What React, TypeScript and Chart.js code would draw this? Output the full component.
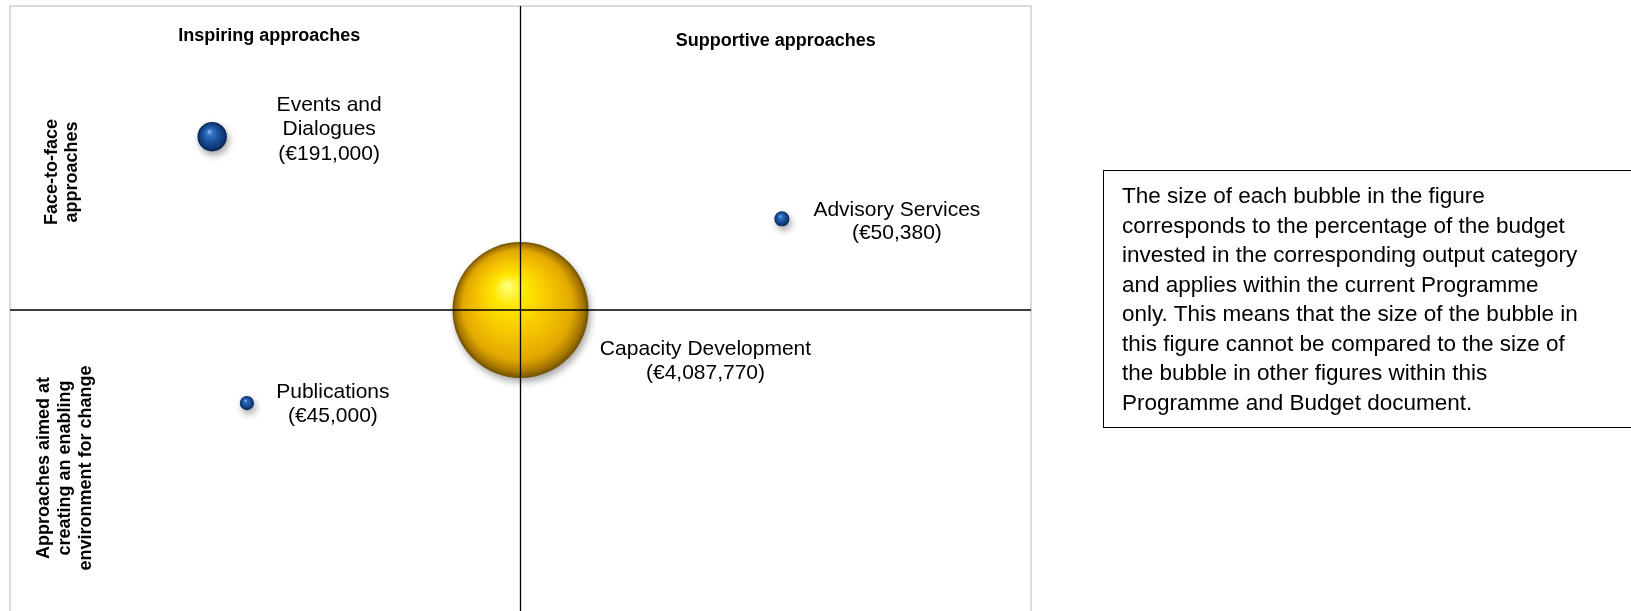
import React, { useEffect, useRef } from "react";
import { Chart, registerables } from "chart.js";

Chart.register(...registerables);

// ---- data ----
const categories = ["Events and Dialogues", "Advisory Services", "Capacity Development", "Publications"];
const categoryLabelLines = [["Events and", "Dialogues"], ["Advisory Services"], ["Capacity Development"], ["Publications"]];
const budgets = [191000, 50380, 4087770, 45000];
const xValues = [19.8, 75.6, 50, 23.2];
const yValues = [78.5, 65, 50, 34.7];
const columnTitles = ["Inspiring approaches", "Supportive approaches"];
const rowTitles = [["Face-to-face", "approaches"], ["Approaches aimed at", "creating an enabling", "environment for change"]];
const noteLines = [
  "The size of each bubble in the figure",
  "corresponds to the percentage of the budget",
  "invested in the corresponding output category",
  "and applies within the current Programme",
  "only. This means that the size of the bubble in",
  "this figure cannot be compared to the size of",
  "the bubble in other figures within this",
  "Programme and Budget document.",
];

// ---- styles / layout ----
const bubbleStyle = ["blue", "blue", "gold", "blue"];
const labelOffsets = [
  { dx: 117, dy: -26, lh: 24.5 },
  { dx: 115, dy: -3, lh: 23.5 },
  { dx: 185, dy: 45, lh: 24 },
  { dx: 86, dy: -5, lh: 23.5 },
];
const MAX_R = 68;
const FONT = '"Liberation Sans", Arial, Helvetica, sans-serif';

const fmt = (v: number) => "(€" + String(v).replace(/\B(?=(\d{3})+(?!\d))/g, ",") + ")";

function sphereFill(chart: any, raw: any, style: string) {
  const fallback = style === "gold" ? "#f2c200" : "#1a4f9c";
  try {
    const xs = chart.scales?.x;
    const ys = chart.scales?.y;
    if (!xs || !ys || !raw) return fallback;
    const cx = xs.getPixelForValue(raw.x);
    const cy = ys.getPixelForValue(raw.y);
    const r = raw.r;
    if (![cx, cy, r].every((v) => Number.isFinite(v)) || r <= 0) return fallback;
    const g = chart.ctx.createRadialGradient(cx - r * 0.2, cy - r * 0.36, r * 0.03, cx, cy, r);
    if (style === "gold") {
      g.addColorStop(0, "#ffff70");
      g.addColorStop(0.22, "#ffe600");
      g.addColorStop(0.55, "#f4c200");
      g.addColorStop(0.8, "#e0a800");
      g.addColorStop(0.93, "#a87800");
      g.addColorStop(1, "#6e5000");
    } else {
      g.addColorStop(0, "#8ab8f0");
      g.addColorStop(0.18, "#3473c6");
      g.addColorStop(0.55, "#1a4f9c");
      g.addColorStop(0.85, "#0f3873");
      g.addColorStop(1, "#08224a");
    }
    return g;
  } catch (e) {
    return fallback;
  }
}

const quadPlugin = {
  id: "quadPlugin",
  beforeDatasetsDraw(chart: any) {
    const ctx = chart.ctx;
    ctx.save();
    ctx.shadowColor = "rgba(0,0,0,0.35)";
    ctx.shadowBlur = 7;
    ctx.shadowOffsetX = 2;
    ctx.shadowOffsetY = 4;
  },
  afterDatasetsDraw(chart: any) {
    const ctx = chart.ctx;
    ctx.restore();
    const { left, right, top, bottom } = chart.chartArea;
    const xs = chart.scales.x;
    const ys = chart.scales.y;
    const midX = xs.getPixelForValue(50);
    const midY = ys.getPixelForValue(50);

    ctx.save();
    // outer border
    ctx.strokeStyle = "#d9d9d9";
    ctx.lineWidth = 2;
    ctx.strokeRect(left, top, right - left, bottom - top);
    // quadrant lines
    ctx.strokeStyle = "#000";
    ctx.lineWidth = 1.3;
    ctx.beginPath();
    ctx.moveTo(midX, top);
    ctx.lineTo(midX, bottom);
    ctx.moveTo(left, midY);
    ctx.lineTo(right, midY);
    ctx.stroke();

    // bubble labels
    ctx.fillStyle = "#000";
    ctx.font = `21px ${FONT}`;
    ctx.textAlign = "center";
    ctx.textBaseline = "alphabetic";
    const meta = chart.getDatasetMeta(0);
    meta.data.forEach((el: any, i: number) => {
      const o = labelOffsets[i];
      const lines = [...categoryLabelLines[i], fmt(budgets[i])];
      lines.forEach((t, k) => ctx.fillText(t, el.x + o.dx, el.y + o.dy + k * o.lh));
    });

    // column titles
    ctx.font = `bold 18px ${FONT}`;
    ctx.fillText(columnTitles[0], (left + midX) / 2 + 4, top + 35);
    ctx.fillText(columnTitles[1], (midX + right) / 2, top + 40);

    // row titles (rotated)
    const drawRot = (lines: string[], baselines: number[], cy: number) => {
      lines.forEach((t, k) => {
        ctx.save();
        ctx.translate(baselines[k], cy);
        ctx.rotate(-Math.PI / 2);
        ctx.fillText(t, 0, 0);
        ctx.restore();
      });
    };
    drawRot(rowTitles[0], [56.5, 76.5], (top + midY) / 2 + 14);
    drawRot(rowTitles[1], [48.5, 69.5, 90.5], (midY + bottom) / 2 + 6);
    ctx.restore();
  },
};

export default function App() {
  const ref = useRef<HTMLCanvasElement | null>(null);
  useEffect(() => {
    if (!ref.current) return;
    const maxB = Math.max(...budgets);
    const chart = new Chart(ref.current, {
      type: "bubble",
      data: {
        datasets: [
          {
            label: "Budget",
            data: categories.map((c, i) => ({ x: xValues[i], y: yValues[i], r: MAX_R * Math.sqrt(budgets[i] / maxB) })),
            backgroundColor: (c: any) =>
              c.type === "data" ? sphereFill(c.chart, c.raw, bubbleStyle[c.dataIndex]) : "#1a4f9c",
            borderWidth: 0,
            clip: false as any,
          },
        ],
      },
      options: {
        animation: false,
        responsive: false,
        events: [],
        layout: { autoPadding: false, padding: { left: 10, top: 6, right: 600, bottom: 6 } },
        scales: {
          x: { type: "linear", min: 0, max: 100, display: false },
          y: { type: "linear", min: 0, max: 100, display: false },
        },
        plugins: { legend: { display: false }, tooltip: { enabled: false } },
      },
      plugins: [quadPlugin],
    } as any);
    return () => chart.destroy();
  }, []);

  return (
    <div style={{ position: "fixed", left: 0, top: 0, width: 1631, height: 611, overflow: "hidden", background: "#fff" }}>
      <canvas ref={ref} width={1631} height={620} style={{ display: "block", width: 1631, height: 620 }} />
      <div
        style={{
          position: "absolute",
          left: 1103,
          top: 170,
          width: 600,
          height: 246,
          border: "1.5px solid #000",
          paddingLeft: 18,
          paddingTop: 10,
          boxSizing: "content-box",
          fontFamily: FONT,
          fontSize: 22.5,
          lineHeight: "29.5px",
          color: "#000",
        }}
      >
        {noteLines.map((t, i) => (
          <div key={i} style={{ whiteSpace: "nowrap" }}>{t}</div>
        ))}
      </div>
    </div>
  );
}
